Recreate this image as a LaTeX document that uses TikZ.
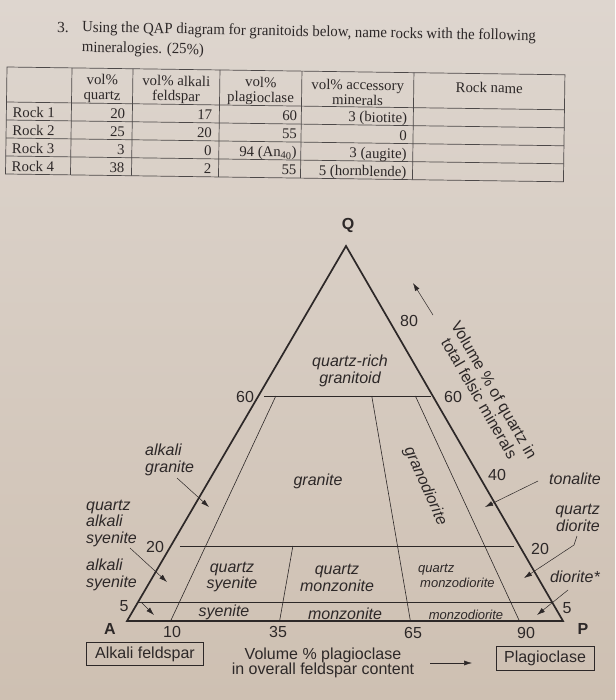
\documentclass[tikz,border=0pt]{standalone}
\usepackage{fontspec}
\setmainfont{Liberation Serif}
\newfontfamily\dsans{Liberation Sans}
\usetikzlibrary{arrows.meta,calc}
\definecolor{ink}{RGB}{45,40,40}
\definecolor{bgtop}{RGB}{222,214,207}
\definecolor{bgbot}{RGB}{206,192,178}
\begin{document}
\begin{tikzpicture}[x=1pt,y=-1pt,
  lab/.style={font=\dsans\fontsize{16}{16.5}\selectfont\itshape, text=ink, inner sep=0pt},
  slab/.style={font=\dsans\fontsize{13}{15}\selectfont\itshape, text=ink, inner sep=0pt},
  num/.style={font=\dsans\fontsize{16}{15.5}\selectfont, text=ink, inner sep=0pt},
  vtx/.style={font=\dsans\fontsize{16}{17}\selectfont\bfseries, text=ink, inner sep=0pt},
  edge/.style={draw=ink, line width=1.7pt, line join=miter},
  divline/.style={draw=ink, line width=0.6pt},
  ptr/.style={draw=ink, line width=0.5pt, -{Latex[length=8pt,width=5pt]}},
  boxlab/.style={font=\dsans\fontsize{16}{17}\selectfont, text=ink, draw=ink, line width=0.6pt, inner sep=0pt},
  tcell/.style={font=\fontsize{14.8}{15}\selectfont, text=ink, inner sep=0pt},
  tline/.style={draw=ink!85, line width=0.7pt},
  ttl/.style={font=\fontsize{15.5}{20}\selectfont, text=ink, inner sep=0pt, anchor=base west},
]
\shade[top color=bgtop,bottom color=bgbot] (0,0) rectangle (615,700);
\useasboundingbox (0,0) rectangle (615,700);

% ---------- title ----------
\begin{scope}[rotate around={-1.1:(82,32)}, transform shape]
 \node[ttl] (t0) at (57,33) {3.};
 \node[ttl, xscale=0.955] (t1) at (82,32) {Using the QAP diagram for granitoids below, name rocks with the following};
 \node[ttl, xscale=0.955] (t2) at (82,52) {mineralogies. (25\%)};
\end{scope}

% ---------- table ----------
\begin{scope}[shift={(7,67)}, rotate=-0.8, transform shape]
 \draw[tline] (0,0) rectangle (558,107);
 \foreach \cx in {65,126,213,295,407} \draw[tline] (\cx,0) -- (\cx,107);
 \foreach \ry in {35,53,71,89} \draw[tline] (0,\ry) -- (558,\ry);
 \node[tcell, align=center] (h1) at (95.5,20.5) {vol\%\\quartz};
 \node[tcell, align=center] (h2) at (169.5,20.5) {vol\% alkali\\feldspar};
 \node[tcell, align=center] (h3) at (254,20.5) {vol\%\\plagioclase};
 \node[tcell, align=center] (h4) at (351,20.5) {vol\% accessory\\minerals};
 \node[tcell] (h5) at (482.5,14) {Rock name};
 % rows
 \node[tcell, anchor=base west] (r1) at (6,50) {Rock 1};
 \node[tcell, anchor=base west] (r2) at (6,68) {Rock 2};
 \node[tcell, anchor=base west] (r3) at (6,86) {Rock 3};
 \node[tcell, anchor=base west] (r4) at (6,104) {Rock 4};
 \node[tcell, anchor=base east] (q1) at (119,50) {20};
 \node[tcell, anchor=base east] (q2) at (119,68) {25};
 \node[tcell, anchor=base east] (q3) at (119,86) {3};
 \node[tcell, anchor=base east] (q4) at (119,104) {38};
 \node[tcell, anchor=base east] (k1) at (206,50) {17};
 \node[tcell, anchor=base east] (k2) at (206,68) {20};
 \node[tcell, anchor=base east] (k3) at (206,86) {0};
 \node[tcell, anchor=base east] (k4) at (206,104) {2};
 \node[tcell, anchor=base east] (p1) at (291,50) {60};
 \node[tcell, anchor=base east] (p2) at (291,68) {55};
 \node[tcell, anchor=base east] (p3) at (291,86) {94 (An\textsubscript{40})};
 \node[tcell, anchor=base east] (p4) at (291,104) {55};
 \node[tcell, anchor=base east] (m1) at (401,50) {3 (biotite)};
 \node[tcell, anchor=base east] (m2) at (401,68) {0};
 \node[tcell, anchor=base east] (m3) at (401,86) {3 (augite)};
 \node[tcell, anchor=base east] (m4) at (401,104) {5 (hornblende)};
\end{scope}

% ---------- QAP triangle ----------
\coordinate (A) at (127,621);
\coordinate (P) at (563,621);
\coordinate (Q) at (346,246);
\coordinate (L60) at ($(A)!0.6!(Q)$);
\coordinate (R60) at ($(P)!0.6!(Q)$);
\coordinate (L20) at ($(A)!0.2!(Q)$);
\coordinate (R20) at ($(P)!0.2!(Q)$);
\coordinate (L5) at ($(A)!0.05!(Q)$);
\coordinate (R5) at ($(P)!0.05!(Q)$);
\coordinate (b10) at ($(A)!0.10!(P)$);
\coordinate (b35) at ($(A)!0.35!(P)$);
\coordinate (b65) at ($(A)!0.65!(P)$);
\coordinate (b90) at ($(A)!0.90!(P)$);
\coordinate (u10) at ($(b10)!0.6!(Q)$);
\coordinate (u35) at ($(b35)!0.2!(Q)$);
\coordinate (u65) at ($(b65)!0.6!(Q)$);
\coordinate (u90) at ($(b90)!0.6!(Q)$);

\draw[divline] ($(L60)+(6,0)$) -- ($(R60)+(-2,0)$);
\draw[divline] ($(L20)+(9,0)$) -- ($(R20)+(-6,0)$);
\draw[divline] (L5) -- (R5);
\draw[divline] (b10) -- (u10);
\draw[divline] (b35) -- (u35);
\draw[divline] (b65) -- (u65);
\draw[divline] (b90) -- (u90);
\draw[edge] (A) -- (P) -- (Q) -- cycle;

% vertices and ticks
\node[vtx] (nQ) at (348,225) {Q};
\node[vtx] (nA) at (110,629) {A};
\node[vtx] (nP) at (583,629) {P};
\node[num] (n80) at (409,321) {80};
\node[num] (n60r) at (453,397) {60};
\node[num] (n40r) at (497,475) {40};
\node[num] (n20r) at (540,549) {20};
\node[num] (n5r) at (567,608) {5};
\node[num] (n60l) at (245,397) {60};
\node[num] (n20l) at (155,547) {20};
\node[num] (n5l) at (124,606) {5};
\node[num] (n10) at (172,632) {10};
\node[num] (n35) at (278,632) {35};
\node[num] (n65) at (413,633) {65};
\node[num] (n90) at (526,633) {90};

% axis captions
\node[boxlab, minimum width=117pt, minimum height=23pt] (akf) at (145,654) {Alkali feldspar};
\node[boxlab, minimum width=98pt, minimum height=24pt] (plg) at (545,658) {Plagioclase};
\node[num, align=center] (vplg) at (323,663) {Volume \% plagioclase\\in overall feldspar content};
\coordinate (va1) at (430,663);
\coordinate (va2) at (472,663);
\draw[ptr] (va1) -- (va2);
\node[num, font=\dsans\fontsize{16}{17}\selectfont, align=center, rotate=-60] (vq) at (487,394) {Volume \% of quartz in\\total felsic minerals};
\coordinate (qa1) at (433,315);
\coordinate (qa2) at (413,283);
\draw[ptr] (qa1) -- (qa2);

% field names
\node[lab, align=center] (qrg) at (350,371) {quartz-rich\\granitoid};
\node[lab] (gr) at (318,481) {granite};
\node[lab, rotate=-66] (gd) at (425,486) {granodiorite};
\node[lab, align=center] (qsy) at (232,577) {quartz\\syenite};
\node[lab] (sy) at (224,612) {syenite};
\node[lab, align=center] (qmz) at (337,578) {quartz\\monzonite};
\node[lab] (mz) at (345,614) {monzonite};
\node[slab, align=left, anchor=north west] (qmzd) at (418,564) {quartz\\\hspace*{2pt}monzodiorite};
\node[slab] (mzd) at (466,615) {monzodiorite};

% outside labels with pointers
\node[lab, align=left, anchor=west] (ag) at (145,460) {alkali\\granite};
\coordinate (ag1) at (177,478);
\coordinate (ag2) at (209,507);
\draw[ptr] (ag1) -- (ag2);
\node[lab, align=left, anchor=west] (qas) at (86,523) {quartz\\alkali\\syenite};
\coordinate (qas1) at (130,548);
\coordinate (qas2) at (167,582);
\draw[ptr] (qas1) -- (qas2);
\node[lab, align=left, anchor=west] (as) at (86,575) {alkali\\syenite};
\coordinate (as1) at (141,602);
\coordinate (as2) at (154,615);
\draw[ptr] (as1) -- (as2);
\node[lab, anchor=east] (ton) at (601,479) {tonalite};
\coordinate (ton1) at (538,481);
\coordinate (ton2) at (485,507);
\draw[ptr] (ton1) -- (ton2);
\node[lab, align=right, anchor=east] (qd) at (600,518) {quartz\\diorite};
\coordinate (qd1) at (577,536);
\coordinate (qd2) at (574,545);
\coordinate (qd3) at (524,578);
\draw[ptr] (qd1) -- (qd2) -- (qd3);
\node[lab, anchor=east] (dio) at (600,577) {diorite*};
\coordinate (dio1) at (568,590);
\coordinate (dio2) at (537,615);
\draw[ptr] (dio1) -- (dio2);
\end{tikzpicture}
\end{document}
